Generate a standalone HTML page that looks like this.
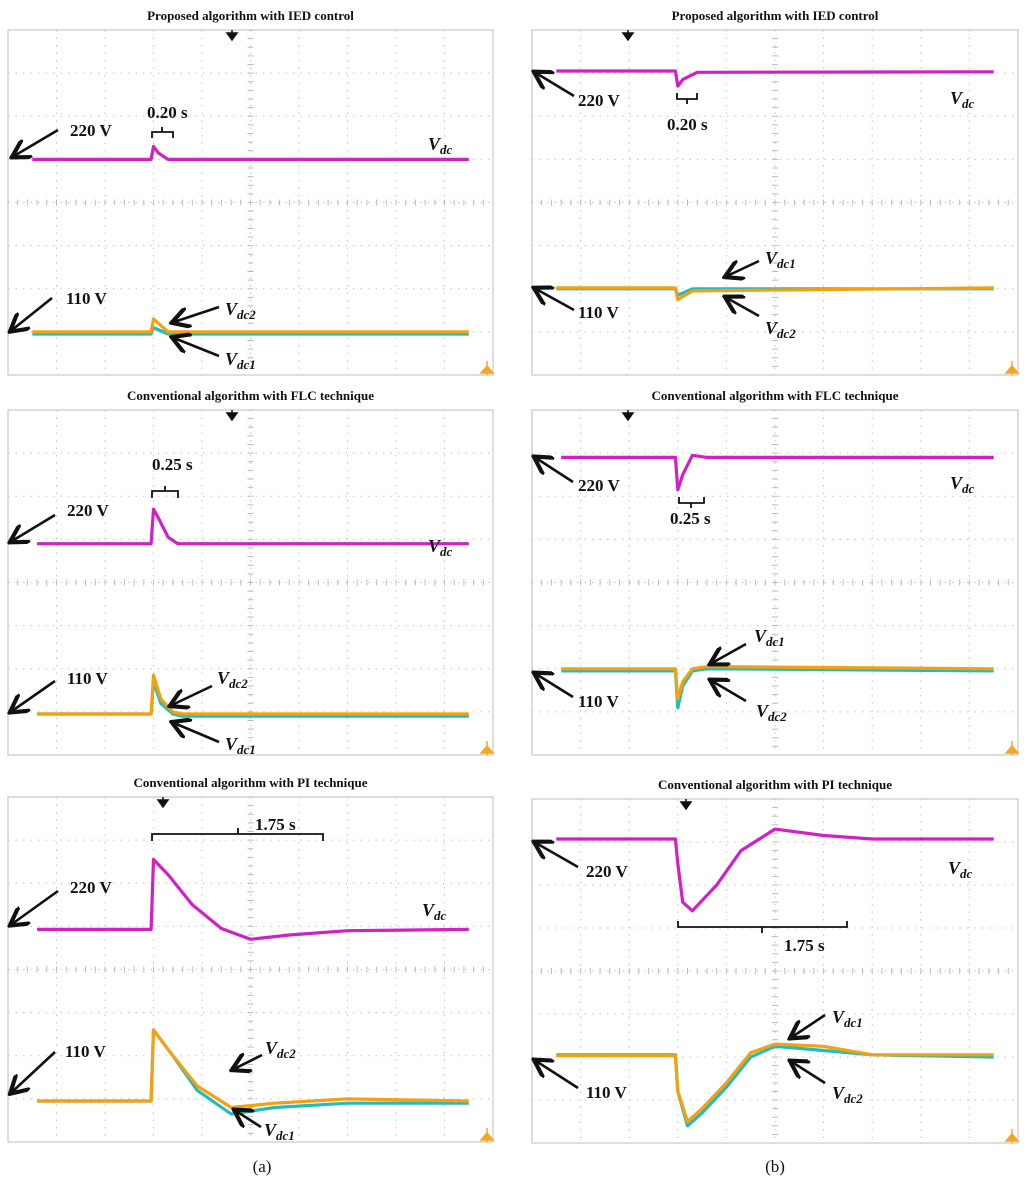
<!DOCTYPE html>
<html><head><meta charset="utf-8"><style>
body{margin:0;background:#fff}
svg{display:block}
.t{font-family:"Liberation Serif",serif;font-weight:bold;font-size:13px;fill:#111}
.l{font-family:"Liberation Serif",serif;font-weight:bold;font-size:17px;fill:#111}
.v{font-family:"Liberation Serif",serif;font-weight:bold;font-style:italic;font-size:18px;fill:#111}
.c{font-family:"Liberation Serif",serif;font-size:17px;fill:#111}
</style></head><body>
<svg id="fig" width="1024" height="1187" viewBox="0 0 1024 1187">
<defs><marker id="ah" markerWidth="8" markerHeight="8" refX="6" refY="4" orient="auto"><path d="M0,0 L7,4 L0,8" fill="none" stroke="#111" stroke-width="1.6"/></marker></defs>
</svg>
<script>
// panel frames: [x0,y0,x1,y1]
const panels=[
 {id:'a-ied',f:[8,30,493,375],title:'Proposed algorithm with IED control',trig:232},
 {id:'b-ied',f:[532,30,1018,375],title:'Proposed algorithm with IED control',trig:628},
 {id:'a-flc',f:[8,410,493,755],title:'Conventional algorithm with FLC technique',trig:232},
 {id:'b-flc',f:[532,410,1018,755],title:'Conventional algorithm with FLC technique',trig:628},
 {id:'a-pi',f:[8,797,493,1142],title:'Conventional algorithm with PI technique',trig:163},
 {id:'b-pi',f:[532,799,1018,1143],title:'Conventional algorithm with PI technique',trig:686}
];
// traces: time in divisions (0-10), level in divisions from top (0-8)
const vdcT_aied=[0.5,2.95,3.0,3.1,3.3,9.5];
const vdcV_aied=[3.0,3.0,2.7,2.85,3.0,3.0];
const v1T_aied=[0.5,2.95,3.0,3.3,9.5];
const v1V_aied=[7.05,7.05,6.9,7.05,7.05];
const v2V_aied=[7.0,7.0,6.7,7.0,7.0];

const vdcT_bied=[0.5,2.95,3.0,3.1,3.4,9.5];
const vdcV_bied=[0.95,0.95,1.3,1.15,0.98,0.97];
const v1T_bied=[0.5,2.95,3.0,3.3,9.5];
const v1V_bied=[6.0,6.0,6.15,6.0,6.0];
const v2V_bied=[5.98,5.98,6.25,6.05,5.98];

const vdcT_aflc=[0.6,2.95,3.0,3.1,3.3,3.5,9.5];
const vdcV_aflc=[3.1,3.1,2.3,2.5,2.95,3.1,3.1];
const v1T_aflc=[0.6,2.95,3.0,3.15,3.4,3.6,9.5];
const v1V_aflc=[7.05,7.05,6.3,6.8,7.05,7.1,7.1];
const v2V_aflc=[7.05,7.05,6.15,6.7,7.0,7.05,7.05];

const vdcT_bflc=[0.6,2.95,3.0,3.1,3.3,3.6,9.5];
const vdcV_bflc=[1.1,1.1,1.85,1.5,1.05,1.1,1.1];
const v1T_bflc=[0.6,2.95,3.0,3.1,3.3,3.6,9.5];
const v1V_bflc=[6.05,6.05,6.9,6.4,6.05,6.0,6.05];
const v2V_bflc=[6.0,6.0,6.7,6.3,6.0,5.95,6.0];

const vdcT_api=[0.6,2.95,3.0,3.3,3.8,4.4,5.0,5.8,7.0,9.5];
const vdcV_api=[3.07,3.07,1.45,1.8,2.5,3.05,3.3,3.2,3.1,3.07];
const v1T_api=[0.6,2.95,3.0,3.4,3.9,4.6,5.5,7.0,9.5];
const v1V_api=[7.05,7.05,5.4,6.0,6.8,7.35,7.2,7.1,7.1];
const v2V_api=[7.05,7.05,5.4,6.0,6.7,7.2,7.1,7.0,7.05];

const vdcT_bpi=[0.5,2.95,3.0,3.1,3.3,3.8,4.3,5.0,6.0,7.0,9.5];
const vdcV_bpi=[0.93,0.93,1.5,2.4,2.6,2.0,1.2,0.7,0.85,0.93,0.93];
const v1T_bpi=[0.5,2.95,3.0,3.2,3.5,4.0,4.5,5.0,6.0,7.0,9.5];
const v1V_bpi=[5.95,5.95,6.8,7.6,7.3,6.7,6.0,5.75,5.85,5.95,6.0];
const v2V_bpi=[5.97,5.97,6.8,7.5,7.2,6.6,5.9,5.7,5.75,5.95,5.95];

const traces=[
 [vdcT_aied,vdcV_aied,v1T_aied,v1V_aied,v2V_aied],
 [vdcT_bied,vdcV_bied,v1T_bied,v1V_bied,v2V_bied],
 [vdcT_aflc,vdcV_aflc,v1T_aflc,v1V_aflc,v2V_aflc],
 [vdcT_bflc,vdcV_bflc,v1T_bflc,v1V_bflc,v2V_bflc],
 [vdcT_api,vdcV_api,v1T_api,v1V_api,v2V_api],
 [vdcT_bpi,vdcV_bpi,v1T_bpi,v1V_bpi,v2V_bpi]
];
const svg=document.getElementById('fig');
const NS='http://www.w3.org/2000/svg';
function mk(tag,attrs,parent){const e=document.createElementNS(NS,tag);for(const k in attrs)e.setAttribute(k,attrs[k]);(parent||svg).appendChild(e);return e;}
function txt(x,y,cls,s,parent){const e=mk('text',{x:x,y:y,class:cls},parent);e.textContent=s;return e;}

panels.forEach((p,i)=>{
 const [x0,y0,x1,y1]=p.f;
 const g=mk('g',{});
 
 
 const sx=t=>x0+(x1-x0)*t/10, sy=v=>y0+(y1-y0)*v/8;
 const tt=txt((x0+x1)/2,y0-10,'t',p.title,g);tt.setAttribute('text-anchor','middle');
 
 
 mk('rect',{x:x0,y:y0,width:x1-x0,height:y1-y0,fill:'none',stroke:'#c8c8c8','stroke-width':1.2},g);
 for(let k=1;k<10;k++)mk('line',{x1:sx(k),y1:y0,x2:sx(k),y2:y1,stroke:'#c4c4c4','stroke-dasharray':'1.5 6'},g);
 for(let k=1;k<8;k++)mk('line',{x1:x0,y1:sy(k),x2:x1,y2:sy(k),stroke:'#c4c4c4','stroke-dasharray':'1.5 6'},g);
 for(let k=0;k<50;k++){const x=sx(k/5);mk('line',{x1:x,y1:sy(4)-3,x2:x,y2:sy(4)+3,stroke:'#bbb'},g);}
 for(let k=0;k<40;k++){const y=sy(k/5);mk('line',{x1:sx(5)-3,y1:y,x2:sx(5)+3,y2:y,stroke:'#bbb'},g);}
 mk('path',{d:`M${p.trig-5},${y0+3} L${p.trig+5},${y0+3} L${p.trig},${y0+10}Z M${p.trig},${y0} V${y0+5}`,fill:'#111',stroke:'#111','stroke-width':1.5},g);
 mk('path',{d:`M${x1-12},${y1-2} L${x1},${y1-2} L${x1-6},${y1-9}Z M${x1-6},${y1} V${y1-14}`,fill:'#f5a623',stroke:'#f5a623','stroke-width':1.5},g);
 const [tv,vv,tl,v1,v2]=traces[i];
 const line=(T,V,col,name)=>{const e=mk('polyline',{points:T.map((t,j)=>sx(t).toFixed(1)+','+sy(V[j]).toFixed(1)).join(' '),fill:'none',stroke:col,'stroke-width':3.2,'stroke-linejoin':'round'},g);
  
  };
 line(tv,vv,'#d21fc6','vdc-trace');
 line(tl,v1,'#1fbcc0','vdc1-trace');
 line(tl,v2,'#f5a00f','vdc2-trace');
});

function arrow(x1,y1,x2,y2,name){const e=mk('line',{x1,y1,x2,y2,stroke:'#111','stroke-width':2.6,'marker-end':'url(#ah)'});
 
 }
function vlab(x,y,sub,name){const e=txt(x,y,'v','V');const s=mk('tspan',{'font-size':13,dy:4},e);s.textContent=sub;
 
 }
function lab(x,y,s,name){const e=txt(x,y,'l',s);
 
 }
function path(d,name){const e=mk('path',{d,fill:'none',stroke:'#111','stroke-width':1.8});
 
 }

// (a) IED
lab(70,136,'220 V','label-220v');arrow(58,130,14,156,'arrow-220v');
lab(66,304,'110 V','label-110v');arrow(52,298,12,330,'arrow-110v');
vlab(428,150,'dc','label-vdc');
vlab(225,315,'dc2','label-vdc2');arrow(219,307,174,322,'arrow-vdc2');
vlab(225,365,'dc1','label-vdc1');arrow(219,356,174,338,'arrow-vdc1');
lab(147,118,'0.20 s','label-time');path('M152,138 V132 H173 V138 M162,132 V127','bracket-time');
// (b) IED
lab(578,106,'220 V','label-220v');arrow(574,96,536,73,'arrow-220v');
vlab(950,104,'dc','label-vdc');
lab(667,130,'0.20 s','label-time');path('M677,93 V99 H697 V93 M687,99 V104','bracket-time');
vlab(765,264,'dc1','label-vdc1');arrow(759,261,727,276,'arrow-vdc1');
lab(578,318,'110 V','label-110v');arrow(574,310,536,289,'arrow-110v');
vlab(765,334,'dc2','label-vdc2');arrow(759,316,727,298,'arrow-vdc2');
// (a) FLC
lab(152,470,'0.25 s','label-time');path('M152,498 V491 H178 V498 M165,491 V486','bracket-time');
lab(67,516,'220 V','label-220v');arrow(55,515,12,541,'arrow-220v');
vlab(428,552,'dc','label-vdc');
lab(67,684,'110 V','label-110v');arrow(55,681,12,711,'arrow-110v');
vlab(217,684,'dc2','label-vdc2');arrow(212,686,172,705,'arrow-vdc2');
vlab(225,750,'dc1','label-vdc1');arrow(219,742,174,723,'arrow-vdc1');
// (b) FLC
lab(578,491,'220 V','label-220v');arrow(573,482,536,458,'arrow-220v');
vlab(950,489,'dc','label-vdc');
lab(670,524,'0.25 s','label-time');path('M679,497 V503 H704 V497 M691,503 V508','bracket-time');
vlab(754,642,'dc1','label-vdc1');arrow(746,644,712,663,'arrow-vdc1');
lab(578,707,'110 V','label-110v');arrow(573,697,536,674,'arrow-110v');
vlab(756,717,'dc2','label-vdc2');arrow(746,701,712,681,'arrow-vdc2');
// (a) PI
lab(255,830,'1.75 s','label-time');path('M152,841 V834 H323 V841 M238,834 V828','bracket-time');
lab(70,893,'220 V','label-220v');arrow(58,891,12,924,'arrow-220v');
vlab(422,916,'dc','label-vdc');
lab(65,1057,'110 V','label-110v');arrow(55,1052,12,1092,'arrow-110v');
vlab(265,1054,'dc2','label-vdc2');arrow(262,1055,234,1069,'arrow-vdc2');
vlab(264,1136,'dc1','label-vdc1');arrow(261,1127,236,1111,'arrow-vdc1');
// (b) PI
lab(586,877,'220 V','label-220v');arrow(578,867,536,843,'arrow-220v');
vlab(948,874,'dc','label-vdc');
lab(784,951,'1.75 s','label-time');path('M678,921 V927 H847 V921 M762,927 V933','bracket-time');
vlab(832,1023,'dc1','label-vdc1');arrow(825,1015,792,1037,'arrow-vdc1');
lab(586,1098,'110 V','label-110v');arrow(578,1088,536,1061,'arrow-110v');
vlab(832,1099,'dc2','label-vdc2');arrow(825,1083,792,1062,'arrow-vdc2');

const ca=txt(262,1172,'c','(a)');ca.setAttribute('text-anchor','middle');


const cb=txt(775,1172,'c','(b)');cb.setAttribute('text-anchor','middle');


</script>
</body></html>
